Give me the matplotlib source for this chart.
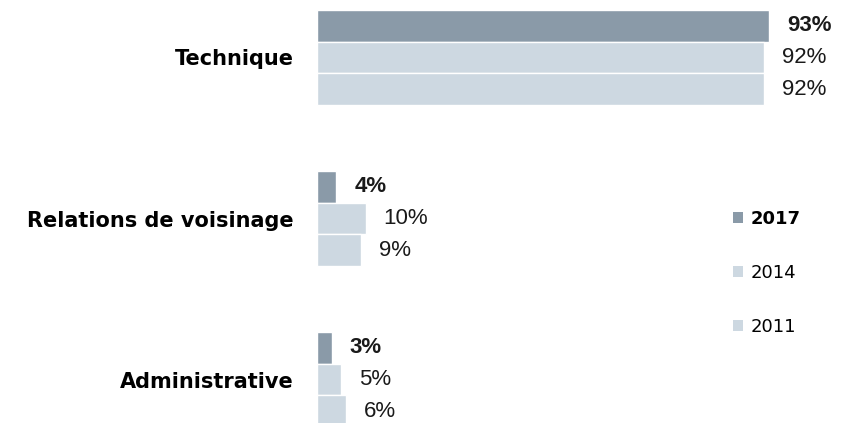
import numpy as np
import matplotlib.pyplot as plt
from matplotlib.patches import Patch

# donnees
categories = ['Technique', 'Relations de voisinage', 'Administrative']
years = ['2017', '2014', '2011']
v2017 = [93, 4, 3]
v2014 = [92, 10, 5]
v2011 = [92, 9, 6]
colors = ['#8a9aa8', '#cdd8e1', '#cdd8e1']

series = [v2017, v2014, v2011]

fig = plt.figure(figsize=(8.47, 4.23), dpi=100)
ax = fig.add_axes([317/847, 0, 486/847, 1])

y = np.arange(len(categories))
step = 0.196
for i, vals in enumerate(series):
    yy = y + (i - 1) * step
    ax.barh(yy, vals, height=step, color=colors[i], edgecolor='white', linewidth=1)
    for yv, v in zip(yy, vals):
        ax.text(v + 3.7, yv, f'{v}%', va='center', ha='left',
                fontsize=16, family='Liberation Sans', color='#1a1a1a',
                fontweight='bold' if i == 0 else 'normal')

ax.set_xlim(0, 100)
ax.set_ylim(2.27, -0.357)
ax.set_yticks(y)
ax.set_yticklabels(categories, fontsize=15, fontweight='bold', family='DejaVu Sans')
ax.tick_params(axis='y', length=0, pad=17)
ax.set_xticks([])
for s in ax.spines.values():
    s.set_visible(False)

handles = [Patch(facecolor=c, edgecolor='none') for c in colors]
leg = fig.legend(handles, years, loc='center left', bbox_to_anchor=(733/847, 1 - 273/423),
                 frameon=False, fontsize=13, borderpad=0, borderaxespad=0,
                 handlelength=0.55, handleheight=0.55, handletextpad=0.45, labelspacing=2.0)
leg.get_texts()[0].set_fontweight('bold')

fig.savefig('out.png', dpi=100)
